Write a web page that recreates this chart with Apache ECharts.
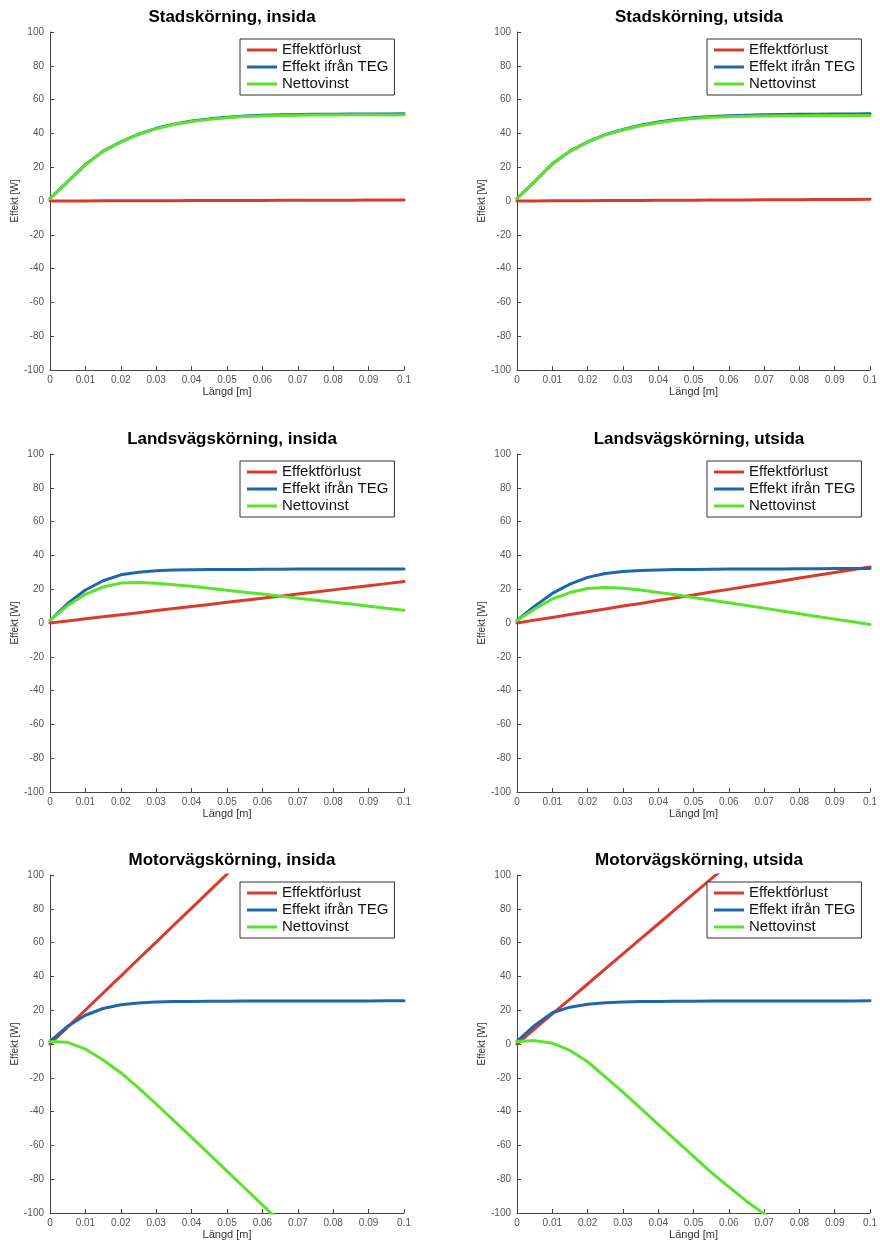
<!DOCTYPE html>
<html><head><meta charset="utf-8">
<script src="https://cdn.jsdelivr.net/npm/echarts/dist/echarts.min.js"></script>
<style>html,body{margin:0;padding:0;background:#fff}#c{width:880px;height:1243px}</style>
</head><body><div id="c"></div>
<script>
// ---- data ----
const xValues = [0,0.005,0.01,0.015,0.02,0.025,0.03,0.035,0.04,0.045,0.05,0.055,0.06,0.065,0.07,0.075,0.08,0.085,0.09,0.095,0.1];
const xTickLabels = ['0','0.01','0.02','0.03','0.04','0.05','0.06','0.07','0.08','0.09','0.1'];
const seriesNames = ['Effektförlust','Effekt ifrån TEG','Nettovinst'];
const panelTitles = ['Stadskörning, insida','Stadskörning, utsida','Landsvägskörning, insida','Landsvägskörning, utsida','Motorvägskörning, insida','Motorvägskörning, utsida'];

const stadInsidaForlust = [0,0.03,0.06,0.09,0.12,0.15,0.18,0.21,0.24,0.27,0.3,0.33,0.36,0.39,0.42,0.45,0.48,0.51,0.54,0.57,0.6];
const stadInsidaTEG     = [1.5,11.5,21.5,29.5,35,39.5,43,45.5,47.3,48.6,49.6,50.3,50.7,51,51.2,51.3,51.4,51.5,51.5,51.5,51.6];
const stadInsidaNetto   = [1.5,11.5,21.4,29.4,34.9,39.4,42.8,45.3,47.1,48.3,49.3,50,50.3,50.6,50.8,50.9,50.9,51,51,50.9,51];

const stadUtsidaForlust = [0,0.05,0.1,0.15,0.2,0.25,0.3,0.35,0.4,0.45,0.5,0.55,0.6,0.65,0.7,0.75,0.8,0.85,0.9,0.95,1.0];
const stadUtsidaTEG     = [1.5,11.5,22,29.5,35,39.3,42.3,44.8,46.7,48.2,49.3,50,50.4,50.8,51,51.2,51.3,51.4,51.5,51.5,51.6];
const stadUtsidaNetto   = [1.5,11.5,21.9,29.4,34.8,39.1,42,44.5,46.3,47.8,48.8,49.5,49.8,50.2,50.3,50.5,50.5,50.6,50.6,50.6,50.6];

const landInsidaForlust = [0,1.2,2.5,3.7,4.9,6.1,7.4,8.6,9.8,11,12.3,13.5,14.7,15.9,17.2,18.4,19.6,20.8,22.1,23.3,24.5];
const landInsidaTEG     = [1.5,11.5,19.5,25,28.5,30,30.9,31.3,31.5,31.6,31.7,31.7,31.8,31.8,31.9,31.9,31.9,32,32,32,32];
const landInsidaNetto   = [1.5,10.3,17,21.3,23.6,23.9,23.5,22.7,21.7,20.6,19.4,18.2,17.1,15.9,14.7,13.5,12.3,11.2,9.9,8.7,7.5];

const landUtsidaForlust = [0,1.7,3.3,5,6.6,8.3,10,11.6,13.3,14.9,16.6,18.3,19.9,21.6,23.2,24.9,26.6,28.2,29.9,31.5,33.2];
const landUtsidaTEG     = [1.5,10,17.5,23,27,29.3,30.5,31.1,31.4,31.6,31.7,31.8,31.9,31.9,32,32,32.1,32.1,32.2,32.2,32.3];
const landUtsidaNetto   = [1.5,8.3,14.2,18,20.4,21,20.5,19.5,18.1,16.7,15.1,13.5,12,10.3,8.8,7.1,5.5,3.9,2.3,0.7,-0.9];

const motorInsidaForlust = [0,10,20.1,30.2,40.2,50.3,60.3,70.4,80.4,90.5,100.5,110.6,120.6,130.7,140.7,150.8,160.8,170.9,180.9,191,201];
const motorInsidaTEG     = [1.5,10.5,17,21,23.2,24.3,24.8,25.1,25.2,25.3,25.3,25.4,25.4,25.4,25.5,25.5,25.5,25.5,25.5,25.6,25.6];
const motorInsidaNetto   = [1.5,1,-3,-9.5,-17,-26,-35.5,-45.3,-55.2,-65.2,-75.2,-85.2,-95.2,-105.3,-115.2,-125.3,-135.3,-145.4,-155.4,-165.4,-175.4];

const motorUtsidaForlust = [0,8.9,17.8,26.6,35.5,44.4,53.3,62.2,71,80,88.8,97.7,106.6,115.4,124.3,133.2,142.1,151,159.8,168.7,177.6];
const motorUtsidaTEG     = [1.5,11,18.5,21.8,23.5,24.4,24.9,25.1,25.2,25.3,25.3,25.4,25.4,25.4,25.5,25.5,25.5,25.5,25.5,25.5,25.6];
const motorUtsidaNetto   = [1.5,2,0.5,-3.8,-10.5,-19.5,-28.5,-38,-47.5,-57,-66.5,-76,-84.5,-93,-100.5,-109,-118,-127,-136,-145,-154];

// ---- layout / style ----
const colors = ['#DA3A2C','#1E67B0','#5BE32B'];
const FONT = '"Liberation Sans", Arial, Helvetica, sans-serif';
const colLeft = [50, 517];
const rowTop = [32, 454, 875];
const gridW = 354, gridH = 338;

const panelData = [
  [stadInsidaForlust, stadInsidaTEG, stadInsidaNetto],
  [stadUtsidaForlust, stadUtsidaTEG, stadUtsidaNetto],
  [landInsidaForlust, landInsidaTEG, landInsidaNetto],
  [landUtsidaForlust, landUtsidaTEG, landUtsidaNetto],
  [motorInsidaForlust, motorInsidaTEG, motorInsidaNetto],
  [motorUtsidaForlust, motorUtsidaTEG, motorUtsidaNetto]
];

const grids = [], xAxes = [], yAxes = [], titles = [], legends = [], series = [];
panelData.forEach((arrs, i) => {
  const L = colLeft[i % 2], T = rowTop[Math.floor(i / 2)];
  grids.push({left: L, top: T, width: gridW, height: gridH, containLabel: false});
  titles.push({text: panelTitles[i], left: L + gridW / 2, top: T - 28, textAlign: 'center', padding: 5,
    textStyle: {fontFamily: FONT, fontSize: 17, fontWeight: 'bold', color: '#000'}});
  legends.push({left: L + 190, top: T + 7, orient: 'vertical', icon: 'rect', itemWidth: 30, itemHeight: 3,
    itemGap: 1, padding: [3, 6, 3, 7], borderColor: '#333', borderWidth: 1, backgroundColor: '#fff',
    textStyle: {fontFamily: FONT, fontSize: 15, lineHeight: 16, color: '#111'}, data: seriesNames});
  xAxes.push({gridIndex: i, type: 'value', min: 0, max: 0.1, interval: 0.01,
    name: 'Längd [m]', nameLocation: 'middle', nameGap: 16,
    nameTextStyle: {fontFamily: FONT, fontSize: 11, color: '#333'},
    axisLine: {onZero: false, lineStyle: {color: '#444', width: 1}},
    axisTick: {inside: true, length: 4, lineStyle: {color: '#444'}},
    axisLabel: {fontFamily: FONT, fontSize: 10, color: '#555', margin: 5,
      formatter: v => xTickLabels[Math.round(v / 0.01)]},
    splitLine: {show: false}});
  yAxes.push({gridIndex: i, type: 'value', min: -100, max: 100, interval: 20,
    name: 'Effekt [W]', nameLocation: 'middle', nameGap: 30,
    nameTextStyle: {fontFamily: FONT, fontSize: 10, color: '#333'},
    axisLine: {show: true, onZero: false, lineStyle: {color: '#444', width: 1}},
    axisTick: {show: true, inside: true, length: 4, lineStyle: {color: '#444'}},
    axisLabel: {fontFamily: FONT, fontSize: 10, color: '#555', margin: 6},
    splitLine: {show: false}});
  arrs.forEach((arr, k) => {
    series.push({type: 'line', name: seriesNames[k], xAxisIndex: i, yAxisIndex: i,
      data: xValues.map((xv, j) => [xv, arr[j]]),
      showSymbol: false, smooth: false, clip: true,
      lineStyle: {width: 3, color: colors[k], join: 'round', cap: 'round'}, itemStyle: {color: colors[k]}, z: 2 + k});
  });
});

const chart = echarts.init(document.getElementById('c'), null, {renderer: 'canvas'});
chart.setOption({animation: false, backgroundColor: '#fff', title: titles, legend: legends,
  grid: grids, xAxis: xAxes, yAxis: yAxes, series: series});
</script></body></html>
